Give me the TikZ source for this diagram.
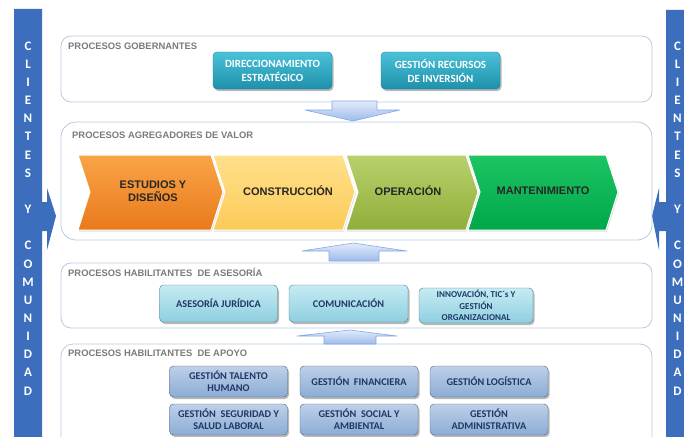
\documentclass[tikz,border=0pt]{standalone}
\usepackage{fontspec}
\setmainfont{Carlito}
\newfontfamily\arialfont{Liberation Sans}
\usetikzlibrary{shadows}

\definecolor{sideblue}{HTML}{3C6EBD}
\definecolor{panelline}{HTML}{B9C9DE}
\definecolor{titlegray}{HTML}{7A7A7A}
\definecolor{tealtop}{HTML}{4AC2D8}
\definecolor{tealbot}{HTML}{1E90AB}
\definecolor{tealline}{HTML}{1A7C93}
\definecolor{cyantop}{HTML}{C6EBF3}
\definecolor{cyanbot}{HTML}{8ECFE0}
\definecolor{cyanline}{HTML}{4D7F8A}
\definecolor{steeltop}{HTML}{BDD0E8}
\definecolor{steelbot}{HTML}{8CACD5}
\definecolor{steelline}{HTML}{50657F}
\definecolor{navytext}{HTML}{1F3864}
\definecolor{arrtop}{HTML}{E2EBFB}
\definecolor{arrbot}{HTML}{9DBBEB}
\definecolor{arrline}{HTML}{84A8E2}
\definecolor{orgtop}{HTML}{F9A447}
\definecolor{orgbot}{HTML}{E97A1C}
\definecolor{yeltop}{HTML}{FFE08C}
\definecolor{yelbot}{HTML}{FCCB58}
\definecolor{olvtop}{HTML}{B9D16C}
\definecolor{olvbot}{HTML}{8FAE3A}
\definecolor{grntop}{HTML}{1CC463}
\definecolor{grnbot}{HTML}{00A84A}

\tikzset{
	panel/.style={draw=panelline, line width=0.8pt, rounded corners=10pt},
	ptitle/.style={anchor=west, inner sep=0pt, text=titlegray, font=\arialfont\bfseries\fontsize{9.4}{10}\selectfont},
	pbox/.style={rounded corners=4pt, align=center, inner sep=1pt, font=\bfseries\fontsize{10.3}{12}\selectfont,
		drop shadow={opacity=0.55, shadow xshift=1.5pt, shadow yshift=-2pt}},
	gobbox/.style={pbox, draw=tealline, top color=tealtop, bottom color=tealbot, text=white,
		minimum width=119pt, minimum height=37pt, font=\bfseries\fontsize{11}{14}\selectfont},
	asebox/.style={pbox, draw=cyanline, top color=cyantop, bottom color=cyanbot, text=navytext, minimum height=37pt},
	apobox/.style={pbox, draw=steelline, top color=steeltop, bottom color=steelbot, text=navytext, minimum width=118pt, minimum height=31pt},
	blockarrow/.style={draw=arrline, line width=0.6pt, top color=arrtop, bottom color=arrbot, line join=round},
	chev/.style={draw=white, line width=1pt, drop shadow={opacity=0.25, shadow xshift=1pt, shadow yshift=-1.5pt}},
	chevtext/.style={align=center, inner sep=0pt, text=black!85, font=\arialfont\bfseries\fontsize{11}{13}\selectfont},
	sideletter/.style={inner sep=0pt, text=white, font=\bfseries\fontsize{13}{13}\selectfont}
}

\begin{document}
\begin{tikzpicture}[x=1pt,y=-1pt]
	\def\lstep{18.15}	%distance between the letters of the side bars
	\useasboundingbox (0,0) rectangle (684,436);
	\clip (0,0) rectangle (684,436);

	% side bars, each with its arrow towards the middle
	\fill[sideblue] (14,9) -- (42,9) -- (42,202) -- (47,202) -- (47,188) -- (56,216) -- (47,250) -- (47,231) -- (42,231) -- (42,440) -- (14,440) -- cycle;
	\fill[sideblue] (666,10) -- (694,10) -- (694,440) -- (666,440) -- (666,231) -- (659,231) -- (659,250) -- (652,216) -- (659,188) -- (659,202) -- (666,202) -- cycle;
	\foreach \l/\k in {C/0,L/1,I/2,E/3,N/4,T/5,E/6,S/7,Y/9,C/11,O/12,M/13,U/14,N/15,I/16,D/17,A/18,D/19}{
		\node[sideletter] (lft\k) at (28,{46+\lstep*\k}) {\l};		%left bar
		\node[sideletter] (rgt\k) at (677.5,{46+\lstep*\k}) {\l};	%right bar
	}

	% the four panels
	\draw[panel] (61,36) rectangle (652,102);
	\draw[panel, rounded corners=15pt] (61,122) rectangle (652,240);
	\draw[panel] (61,263) rectangle (652,328);
	\draw[panel, rounded corners=12pt] (61,344) rectangle (652,450);
	\node[ptitle] (tgob) at (68,46) {PROCESOS GOBERNANTES};
	\node[ptitle] (tagr) at (72,135) {PROCESOS AGREGADORES DE VALOR};
	\node[ptitle] (tase) at (68,272) {PROCESOS HABILITANTES~ DE ASESORÍA};
	\node[ptitle] (tapo) at (68,353) {PROCESOS HABILITANTES~ DE APOYO};

	% block arrows between the panels
	\draw[blockarrow] (332,101) -- (377,101) -- (377,110) -- (400,110) -- (353,121) -- (305,110) -- (332,110) -- cycle;
	\draw[blockarrow] (353,243) -- (407,251) -- (379,251) -- (379,261) -- (329,261) -- (329,251) -- (302,251) -- cycle;
	\draw[blockarrow] (350,330) -- (397,336) -- (376,336) -- (376,344) -- (324,344) -- (324,336) -- (297,336) -- cycle;

	% gobernantes
	\node[gobbox] (dir) at (272.5,70.5) {DIRECCIONAMIENTO\\ESTRATÉGICO};
	\node[gobbox] (inv) at (440.5,70.5) {GESTIÓN RECURSOS\\DE INVERSIÓN};

	% value chain
	\foreach \a/\b/\tx/\ct/\cb/\nm/\txt in {78/211/153/orgtop/orgbot/est/{ESTUDIOS Y\\DISEÑOS},
			213/343/288/yeltop/yelbot/con/CONSTRUCCIÓN,
			346/466/408/olvtop/olvbot/ope/OPERACIÓN,
			468/606/543/grntop/grnbot/man/MANTENIMIENTO}{
		\draw[chev, top color=\ct, bottom color=\cb] (\a,155) -- (\b,155) -- (\b+12,192) -- (\b,230) -- (\a,230) -- (\a+12,192) -- cycle;
		\node[chevtext] (\nm) at (\tx,191) {\txt};
	}

	% asesoria
	\node[asebox, minimum width=118pt] (jur) at (218.5,303.5) {ASESORÍA JURÍDICA};
	\node[asebox, minimum width=119pt] (com) at (348.5,303.5) {COMUNICACIÓN};
	\node[asebox, minimum width=114pt, minimum height=35pt, font=\bfseries\fontsize{9}{11.5}\selectfont] (inn) at (476,305.5) {INNOVACIÓN, TIC´s Y\\GESTIÓN\\ORGANIZACIONAL};

	% apoyo
	\node[apobox] (tal) at (228.5,381.5) {GESTIÓN TALENTO\\HUMANO};
	\node[apobox] (fin) at (359,381.5) {GESTIÓN~ FINANCIERA};
	\node[apobox] (log) at (489,381.5) {GESTIÓN LOGÍSTICA};
	\node[apobox] (seg) at (228.5,419.5) {GESTIÓN~ SEGURIDAD Y\\SALUD LABORAL};
	\node[apobox] (soc) at (359,419.5) {GESTIÓN~ SOCIAL Y\\AMBIENTAL};
	\node[apobox] (adm) at (489,419.5) {GESTIÓN\\ADMINISTRATIVA};
\end{tikzpicture}
\end{document}
